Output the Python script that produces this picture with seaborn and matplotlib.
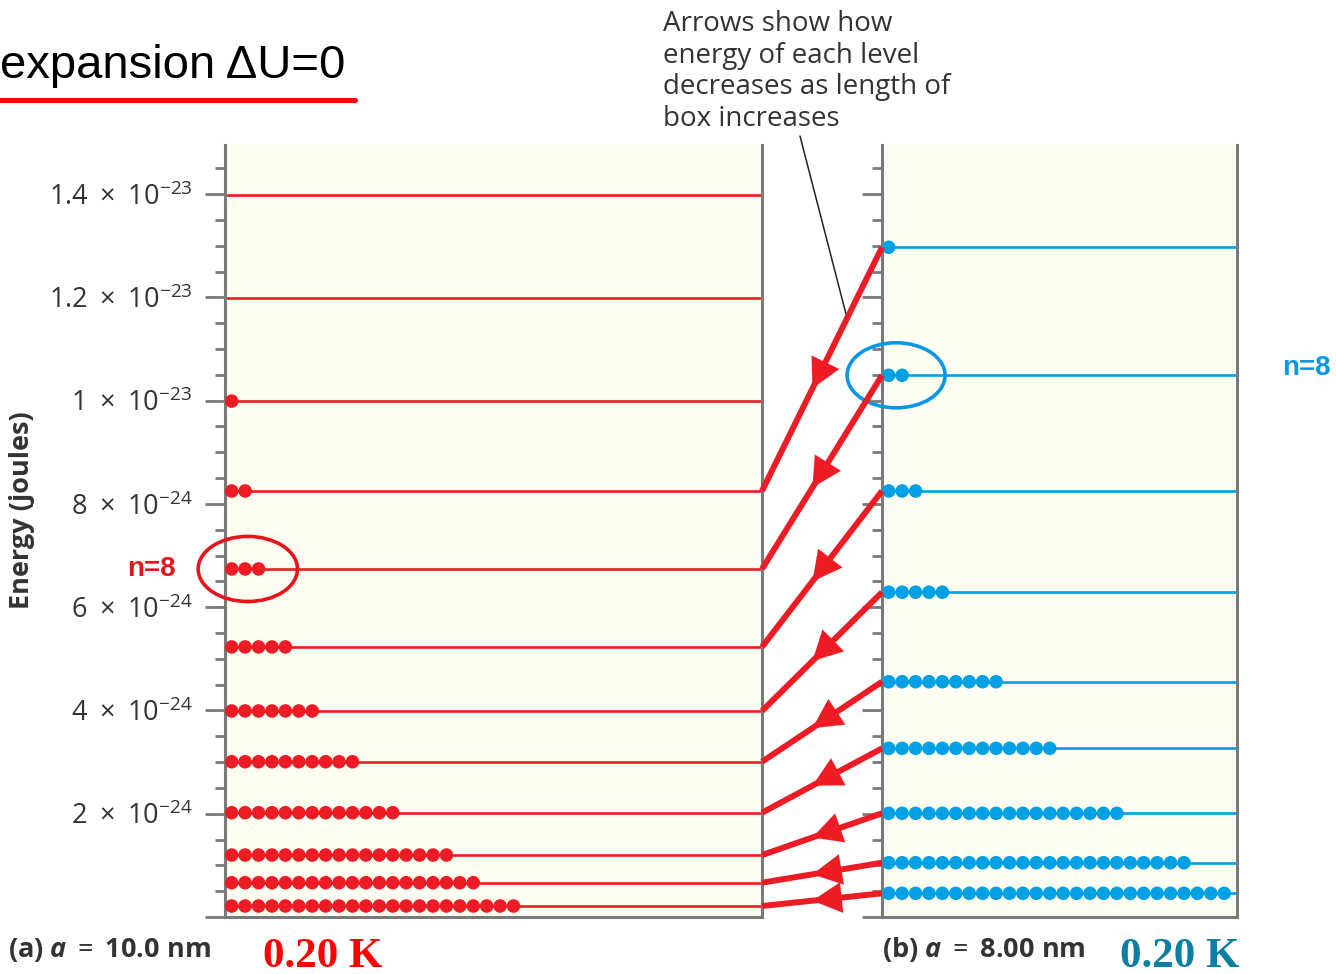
import numpy as np
import pandas as pd
import matplotlib
matplotlib.use("Agg")
import matplotlib.pyplot as plt
import seaborn as sns
from matplotlib.patches import Ellipse, FancyArrowPatch
from matplotlib.lines import Line2D

# ---------------- data ----------------
# energy levels (units of 1e-24 J)
levels_a = [0.213, 0.664, 1.20, 2.02, 3.007, 3.99, 5.23, 6.74, 8.25, 9.99, 11.98, 13.98]
counts_a = [22, 19, 17, 13, 10, 7, 5, 3, 2, 1, 0, 0]
levels_b = [0.459, 1.051, 2.008, 3.266, 4.556, 6.29, 8.25, 10.49, 12.97]
counts_b = [26, 23, 18, 13, 9, 5, 3, 2, 1]
ytick_vals = [0, 2, 4, 6, 8, 10, 12, 14]
ytick_labels = ["", r"$2\ \times\ 10^{-24}$", r"$4\ \times\ 10^{-24}$", r"$6\ \times\ 10^{-24}$",
                r"$8\ \times\ 10^{-24}$", r"$1\ \times\ 10^{-23}$", r"$1.2\ \times\ 10^{-23}$",
                r"$1.4\ \times\ 10^{-23}$"]
highlight_level = 7  # n=8 (index 7)

RED = "#ED1C24"
BLUE = "#00A0E4"
GREY = "#7a7a7a"
BG = "#FEFDF2"

sns.set_theme(style="ticks")
plt.rcParams.update({
    "font.family": ["Open Sans", "DejaVu Sans"],
    "mathtext.fontset": "custom",
    "mathtext.rm": "Open Sans",
    "mathtext.it": "Open Sans:italic",
    "mathtext.bf": "Open Sans:bold",
    "mathtext.bfit": "Open Sans:bold:italic",
    "mathtext.fallback": "stixsans",
})

W, H = 1336, 974
fig = plt.figure(figsize=(W / 100, H / 100), dpi=100)
fig.patch.set_facecolor("white")


def fx(x):
    return x / W


def fy(y):
    return 1 - y / H


YMAX = 14.95
axA = fig.add_axes([fx(225), fy(917), (762 - 225) / W, (917 - 145) / H])
axB = fig.add_axes([fx(882), fy(917), (1237 - 882) / W, (917 - 145) / H])


def make_df(levels, counts):
    rows = []
    for e, c in zip(levels, counts):
        for k in range(c):
            rows.append((k + 0.5, e))
    return pd.DataFrame(rows, columns=["x", "E"])


dfA = make_df(levels_a, counts_a)
dfB = make_df(levels_b, counts_b)

for ax, levels, df, col, xmax in [(axA, levels_a, dfA, RED, 537 / 13.42),
                                   (axB, levels_b, dfB, BLUE, 355 / 13.42)]:
    ax.set_facecolor(BG)
    ax.set_xlim(0, xmax)
    ax.set_ylim(0, YMAX)
    ax.hlines(levels, 0, xmax, color=col, lw=1.9, zorder=2)
    sns.scatterplot(data=df, x="x", y="E", ax=ax, color=col, s=95,
                    edgecolor="none", linewidth=0, zorder=3, clip_on=False)
    ax.set_xlabel("")
    ax.set_ylabel("")
    ax.set_xticks([])
    ax.set_yticks(ytick_vals)
    ax.set_yticks(np.arange(0, 15, 0.5), minor=True)
    ax.tick_params(axis="y", which="major", length=14.5, width=2.0, color=GREY,
                   direction="out", pad=9, labelsize=19.5, labelcolor="#333333")
    ax.tick_params(axis="y", which="minor", length=7.2, width=2.0, color=GREY,
                   direction="out")
    for s in ["left", "right", "bottom"]:
        ax.spines[s].set_color(GREY)
        ax.spines[s].set_linewidth(2.2)
    ax.spines["top"].set_visible(False)

axA.set_yticklabels(ytick_labels)
axB.set_yticklabels([""] * len(ytick_vals))

# arrows from level i in (b) to level i in (a)
fig.canvas.draw()
inv = fig.transFigure.inverted()
for eA, eB in zip(levels_a, levels_b):
    p0 = inv.transform(axB.transData.transform((0, eB)))
    p1 = inv.transform(axA.transData.transform((axA.get_xlim()[1], eA)))
    fig.add_artist(Line2D([p0[0], p1[0]], [p0[1], p1[1]], color=RED, lw=4.3,
                          solid_capstyle="butt", transform=fig.transFigure, zorder=5))
    pm = p0 + 0.58 * (p1 - p0)
    fig.add_artist(FancyArrowPatch(tuple(p0), tuple(pm), transform=fig.transFigure,
                                   arrowstyle="-|>,head_length=1.05,head_width=0.55",
                                   mutation_scale=20, color=RED, lw=0.1,
                                   shrinkA=0, shrinkB=0, zorder=6))

# ellipses around n=8
iA = highlight_level
axA.add_patch(Ellipse((1.7, levels_a[iA]), 7.4, 1.26, fill=False, ec="#E8141B",
                      lw=2.6, clip_on=False, zorder=7))
axB.add_patch(Ellipse((1.05, levels_b[iA]), 7.3, 1.26, fill=False, ec="#0A96E6",
                      lw=2.6, clip_on=False, zorder=7))

# y-label
fig.text(fx(22), fy(510), "Energy (joules)", rotation=90, ha="center", va="center",
         fontsize=19.5, fontweight="bold", color="#333333")

# title
fig.text(fx(0), fy(66), "expansion \u0394U=0", ha="left", va="center",
         fontsize=34, family="Liberation Sans", color="black")
fig.add_artist(Line2D([fx(0), fx(355)], [fy(100), fy(100)], color="#FF0000", lw=3.6,
                      transform=fig.transFigure))

# annotation
fig.text(fx(663), fy(10), "Arrows show how\nenergy of each level\ndecreases as length of\nbox increases",
         ha="left", va="top", fontsize=20, color="#333333", linespacing=1.17)
fig.add_artist(Line2D([fx(800), fx(846)], [fy(136), fy(314)], color="#222222", lw=1.1,
                      transform=fig.transFigure, zorder=4))

# n=8 labels
fig.text(fx(151), fy(569), "n=8", ha="center", va="center", fontsize=20,
         fontweight="bold", family="Liberation Sans", color="#E8141B")
fig.text(fx(1306), fy(368), "n=8", ha="center", va="center", fontsize=20,
         fontweight="bold", family="Liberation Sans", color="#0A96E6")

# bottom labels
fig.text(fx(8), fy(950), r"(a) $\mathbfit{a}$ $=$ 10.0 nm", ha="left", va="center",
         fontsize=19.5, fontweight="bold", color="#333333")
fig.text(fx(882), fy(950), r"(b) $\mathbfit{a}$ $=$ 8.00 nm", ha="left", va="center",
         fontsize=19.5, fontweight="bold", color="#333333")
fig.text(fx(263), fy(957), "0.20 K", ha="left", va="center", fontsize=31,
         fontweight="bold", family="Liberation Serif", color="#FF0000")
fig.text(fx(1120), fy(957), "0.20 K", ha="left", va="center", fontsize=31,
         fontweight="bold", family="Liberation Serif", color="#0A7FA3")

fig.savefig("out.png", dpi=100)
